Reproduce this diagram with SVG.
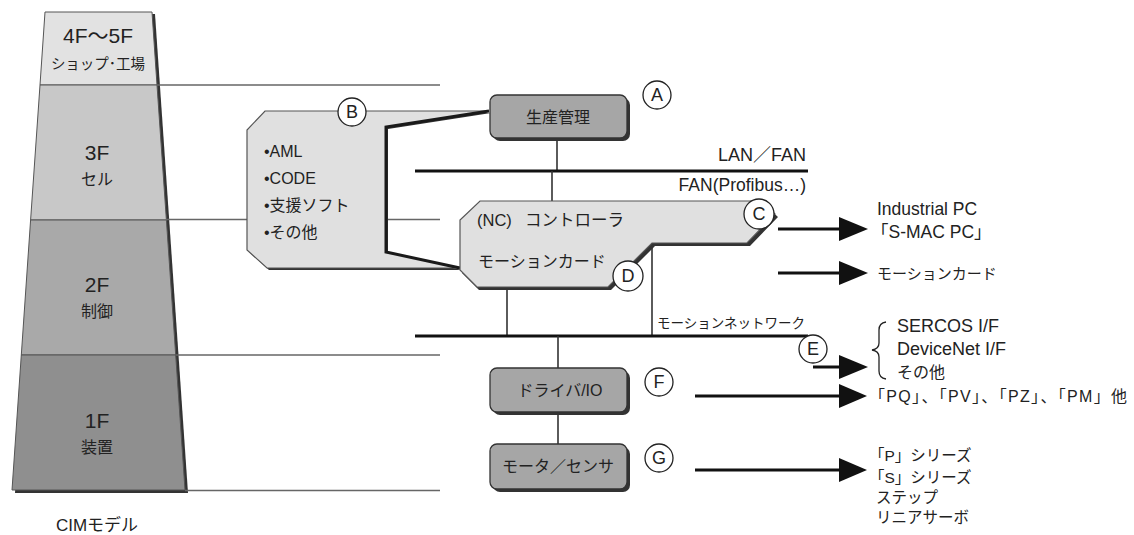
<svg xmlns="http://www.w3.org/2000/svg" width="1134" height="535" viewBox="0 0 1134 535">
<style>
text{font-family:"Liberation Sans","Noto Sans CJK JP",sans-serif;fill:#222}
.guide{stroke:#666;stroke-width:1.3;fill:none}
.conn{stroke:#333;stroke-width:1.6;fill:none}
.bus{stroke:#111;stroke-width:3.2;fill:none}
.arr{stroke:#111;stroke-width:3;fill:none}
.head{fill:#111}
.box{fill:#a6a6a6;stroke:#333;stroke-width:1.3}
.shadow{fill:#333}
.circ{fill:#fff;stroke:#222;stroke-width:1.3}
.lt{font-size:18px;text-anchor:middle}
.lbl{font-size:16px;text-anchor:middle}
</style>
<rect width="1134" height="535" fill="#fff"/>

<!-- pyramid -->
<g id="pyramid">
  <polygon points="48,14 155,14 188,493 15,493" fill="#333"/>
  <polygon points="45,12 152,12 157,85 40,85" fill="#e2e2e2" stroke="#555" stroke-width="1"/>
  <polygon points="40,85 157,85 166.4,220 30.6,220" fill="#c8c8c8" stroke="#555" stroke-width="1"/>
  <polygon points="30.6,220 166.4,220 175.7,355 21.3,355" fill="#a9a9a9" stroke="#555" stroke-width="1"/>
  <polygon points="21.3,355 175.7,355 185,490 12,490" fill="#8f8f8f" stroke="#555" stroke-width="1"/>
  <text x="98" y="43" font-size="21" text-anchor="middle">4F～5F</text>
  <text x="98" y="69" font-size="14.5" text-anchor="middle">ショップ･工場</text>
  <text x="97" y="160" font-size="21" text-anchor="middle">3F</text>
  <text x="97" y="185" font-size="16" text-anchor="middle">セル</text>
  <text x="97" y="292" font-size="21" text-anchor="middle">2F</text>
  <text x="97" y="317" font-size="16" text-anchor="middle">制御</text>
  <text x="97" y="428" font-size="21" text-anchor="middle">1F</text>
  <text x="97" y="453" font-size="16" text-anchor="middle">装置</text>
  <text x="97" y="531" font-size="17" text-anchor="middle">CIMモデル</text>
</g>

<!-- level guide lines -->
<g id="guides">
  <line class="guide" x1="157" y1="85" x2="440" y2="85"/>
  <line class="guide" x1="166" y1="219.5" x2="440" y2="219.5"/>
  <line class="guide" x1="176" y1="355" x2="440" y2="355"/>
  <line class="guide" x1="185" y1="490.5" x2="440" y2="490.5"/>
</g>

<!-- connectors -->
<g id="connectors">
  <line class="conn" x1="557" y1="138" x2="557" y2="171"/>
  <line class="bus" x1="415" y1="171" x2="808" y2="171"/>
  <line class="conn" x1="552" y1="171" x2="552" y2="201"/>
  <line class="conn" x1="507" y1="287" x2="507" y2="336"/>
  <line class="conn" x1="652" y1="243" x2="652" y2="336"/>
  <line class="bus" x1="415" y1="336" x2="808" y2="336"/>
  <line class="conn" x1="558" y1="336" x2="558" y2="368"/>
  <line class="conn" x1="558" y1="412" x2="558" y2="444"/>
  <line class="arr" x1="778" y1="229" x2="842" y2="229"/>
  <polygon class="head" points="839,217 868,229 839,241"/>
  <line class="arr" x1="778" y1="273" x2="842" y2="273"/>
  <polygon class="head" points="839,261 868,273 839,285"/>
  <line class="arr" x1="813" y1="367" x2="842" y2="367"/>
  <polygon class="head" points="839,355 868,367 839,379"/>
  <line class="arr" x1="695" y1="396" x2="842" y2="396"/>
  <polygon class="head" points="839,384 867,396 839,408"/>
  <line class="arr" x1="695" y1="470" x2="842" y2="470"/>
  <polygon class="head" points="839,458 867,470 839,482"/>
</g>

<g id="bus-labels">
  <text x="806" y="161" font-size="18" text-anchor="end">LAN／FAN</text>
  <text x="806" y="191" font-size="17.5" text-anchor="end">FAN(Profibus…)</text>
  <text x="657" y="328" font-size="13.5">モーションネットワーク</text>
</g>

<!-- B: software box -->
<g id="node-B">
  <polygon points="267,113 491,113 388,129 388,254 462,270 269,270 249,252 249,132" fill="#333"/>
  <polygon points="265,111 489,111 386,127 386,252 460,268 267,268 247,250 247,130" fill="#e0e0e0" stroke="#555" stroke-width="1.2"/>
  <polyline points="489,111 386,127 386,252 460,268" fill="none" stroke="#1a1a1a" stroke-width="3"/>
  <text x="264" y="157" font-size="16">•AML</text>
  <text x="264" y="184" font-size="16">•CODE</text>
  <text x="264" y="211" font-size="16">•支援ソフト</text>
  <text x="264" y="238" font-size="16">•その他</text>
  <circle class="circ" cx="352" cy="112" r="14"/>
  <text x="352" y="118" class="lt">B</text>
</g>

<!-- A: production management -->
<g id="node-A">
  <rect class="shadow" x="493" y="98" width="137" height="43" rx="7"/>
  <rect class="box" x="490" y="95" width="137" height="43" rx="7"/>
  <text x="558" y="123" class="lbl">生産管理</text>
  <circle class="circ" cx="657" cy="95" r="14"/>
  <text x="657" y="101" class="lt">A</text>
</g>

<!-- C/D: NC controller -->
<g id="node-C">
  <polygon points="482,204 764,204 778,217 750,246 655,246 611,290 479,290 462,273 462,223" fill="#333"/>
  <polygon points="480,201 762,201 775,214 747,243 652,243 608,287 477,287 460,270 460,220" fill="#e0e0e0" stroke="#555" stroke-width="1.2"/>
  <text x="477" y="226" font-size="16.5">(NC)</text>
  <text x="525" y="226" font-size="16.5">コントローラ</text>
  <text x="478" y="267" font-size="16">モーションカード</text>
  <circle class="circ" cx="759" cy="214" r="15"/>
  <text x="759" y="220" class="lt">C</text>
</g>
<g id="node-D">
  <circle class="circ" cx="628" cy="276" r="15"/>
  <text x="628" y="282" class="lt">D</text>
</g>

<!-- E -->
<g id="node-E">
  <circle class="circ" cx="813" cy="349" r="14"/>
  <text x="813" y="355" class="lt">E</text>
</g>

<!-- F: driver -->
<g id="node-F">
  <rect class="shadow" x="493" y="371" width="137" height="44" rx="7"/>
  <rect class="box" x="490" y="368" width="137" height="44" rx="7"/>
  <text x="560" y="396" class="lbl">ドライバ/IO</text>
  <circle class="circ" cx="659" cy="382" r="14"/>
  <text x="659" y="388" class="lt">F</text>
</g>

<!-- G: motor -->
<g id="node-G">
  <rect class="shadow" x="493" y="447" width="137" height="45" rx="7"/>
  <rect class="box" x="490" y="444" width="137" height="45" rx="7"/>
  <text x="558" y="472" class="lbl">モータ／センサ</text>
  <circle class="circ" cx="659" cy="458" r="14"/>
  <text x="659" y="464" class="lt">G</text>
</g>

<!-- right-hand product texts -->
<g id="products">
  <text x="877" y="215" font-size="17.5">Industrial PC</text>
  <text x="871" y="238" font-size="17.5">「S-MAC PC」</text>
  <text x="877" y="279" font-size="15">モーションカード</text>
  <path d="M886,322 Q879,323 879,330 L879,343 Q879,349 872,350 Q879,351 879,357 L879,371 Q879,378 886,379" fill="none" stroke="#222" stroke-width="1.3"/>
  <text x="897" y="332" font-size="18">SERCOS I/F</text>
  <text x="897" y="355" font-size="18">DeviceNet I/F</text>
  <text x="897" y="378" font-size="16">その他</text>
  <text x="869" y="402" font-size="16" textLength="258">「PQ」、「PV」、「PZ」、「PM」他</text>
  <text x="869" y="461" font-size="15.5">「P」シリーズ</text>
  <text x="869" y="483" font-size="15.5">「S」シリーズ</text>
  <text x="876" y="503" font-size="15.5">ステップ</text>
  <text x="876" y="523" font-size="15.5">リニアサーボ</text>
</g>
</svg>
